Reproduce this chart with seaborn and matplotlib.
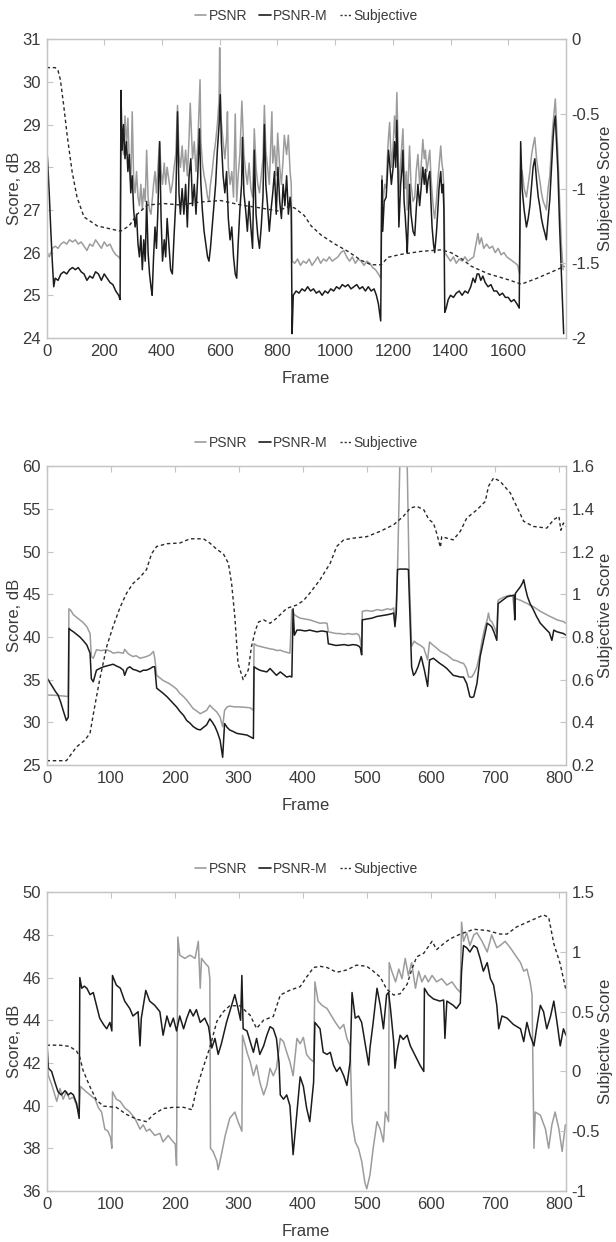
import numpy as np
import pandas as pd
import seaborn as sns
import matplotlib.pyplot as plt
from matplotlib.lines import Line2D

# ---------------- panel 1 (frames 0-1800) ----------------
p1_psnr_f = [0, 10, 20, 30, 40, 50, 60, 70, 80, 90, 100, 110, 120, 130, 140, 150, 160, 170, 180, 190, 200, 210, 220, 230, 240, 250, 255,
             258, 262, 267, 272, 277, 282, 287, 292, 297, 302, 307, 312, 317, 322, 327, 332, 337, 342, 347, 352, 357, 362, 366, 371, 376, 381, 386, 392, 397, 402, 408, 413, 418, 424, 430, 436, 442, 448, 454, 459, 464, 470, 476, 482, 488, 494, 498, 506, 512, 518, 524, 532, 535, 540, 546, 552, 558, 563, 568, 574, 580, 586, 592, 598, 600, 604, 612, 618, 624, 627, 630, 636, 642, 648, 654, 659, 664, 670, 677, 684, 690, 696, 702, 708, 714, 720, 726, 732, 738, 744, 750, 755, 760, 766, 772, 781, 784, 790, 796, 801, 808, 814, 820, 824, 832, 838, 844, 848,
             851, 860, 870, 880, 890, 900, 910, 920, 930, 940, 950, 960, 970, 980, 990, 1000, 1010, 1020, 1030, 1040, 1050, 1060, 1070, 1080, 1090, 1100, 1110, 1120, 1130, 1140, 1150, 1158,
             1162, 1166, 1172, 1177, 1181, 1185, 1189, 1195, 1201, 1206, 1210, 1214, 1218, 1221, 1227, 1231, 1235, 1239, 1243, 1247, 1250, 1254, 1258, 1263, 1270, 1276, 1281, 1287, 1293, 1298, 1304, 1309, 1313, 1318, 1322, 1328, 1332, 1336, 1341, 1345, 1351, 1356, 1360, 1366, 1370, 1374, 1377,
             1380, 1390, 1400, 1410, 1420, 1430, 1440, 1450, 1460, 1470, 1480, 1488, 1495, 1500, 1507, 1515, 1525, 1535, 1545, 1555, 1565, 1575, 1585, 1595, 1605, 1615, 1625, 1633, 1639,
             1643, 1648, 1655, 1663, 1669, 1675, 1681, 1686, 1692, 1698, 1704, 1709, 1715, 1721, 1727, 1732, 1738, 1744, 1750, 1755, 1759, 1763, 1767, 1772, 1778, 1784, 1790]
p1_psnr = [26.0, 25.9, 26.1, 26.15, 26.1, 26.2, 26.25, 26.2, 26.3, 26.25, 26.3, 26.2, 26.25, 26.15, 26.05, 26.2, 26.15, 26.3, 26.2, 26.1, 26.25, 26.15, 26.2, 26.05, 25.95, 25.9, 25.85,
           28.2, 28.9, 28.3, 29.2, 28.5, 29.15, 28.1, 27.6, 29.3, 27.7, 27.4, 27.9, 27.3, 27.1, 27.6, 27.0, 27.5, 27.2, 28.4, 27.3, 27.0, 26.9, 27.2, 27.6, 27.9, 27.4, 28.0, 28.6, 27.9, 27.6, 28.1, 27.6, 28.0, 27.7, 27.4, 27.6, 28.0, 28.3, 29.45, 28.3, 28.0, 28.5, 27.9, 28.4, 27.8, 28.7, 29.5, 28.2, 28.6, 27.9, 28.5, 30.05, 28.6, 28.1, 27.8, 27.6, 27.3, 27.2, 27.6, 27.9, 28.3, 28.6, 29.0, 29.6, 30.8, 29.2, 28.6, 28.2, 28.7, 29.3, 28.0, 27.6, 27.9, 27.3, 29.25, 27.2, 27.8, 28.3, 29.55, 28.3, 27.9, 27.6, 28.1, 27.5, 27.3, 28.9, 28.0, 27.6, 27.4, 27.8, 28.2, 29.45, 28.4, 28.0, 27.6, 29.3, 28.1, 28.5, 27.8, 28.8, 28.0, 27.6, 28.2, 28.75, 28.3, 28.75, 27.9, 27.6,
           25.8, 25.75, 25.85, 25.7, 25.8, 25.75, 25.85, 25.7, 25.8, 25.9, 25.75, 25.85, 25.8, 25.9, 25.8, 25.85, 25.9, 26.0, 26.05, 25.9, 25.8, 25.9, 25.75, 25.85, 25.8, 25.7, 25.8, 25.75, 25.65, 25.6, 25.5, 25.4,
           27.8, 27.2, 27.6, 27.5, 28.2, 28.7, 29.05, 28.0, 28.5, 29.2, 28.7, 29.75, 28.6, 27.4, 28.1, 28.5, 28.9, 28.0, 27.5, 27.9, 27.0, 27.8, 28.5, 27.6, 27.2, 27.3, 27.9, 28.3, 27.6, 28.0, 28.65, 28.2, 28.4, 27.9, 28.1, 28.4, 27.8, 27.4, 27.0, 26.8, 27.2, 27.7, 28.0, 28.5, 28.1, 27.9, 27.5,
           26.0, 25.9, 25.8, 25.9, 25.75, 25.85, 25.8, 25.9, 25.8, 25.85, 25.9, 26.2, 26.45, 26.2, 26.35, 26.1, 26.2, 26.1, 26.15, 26.0, 26.1, 25.95, 26.0, 25.9, 25.85, 25.8, 25.75, 25.7, 25.5,
           28.0, 27.9, 27.5, 27.3, 27.6, 27.9, 28.3, 28.5, 28.7, 28.2, 27.9, 27.7, 27.4, 27.2, 27.1, 27.0, 27.5, 27.8, 28.5, 29.0, 29.3, 29.6, 29.0, 28.3, 27.2, 26.2, 25.6]

p1_psnrm_f = [0, 5, 10, 15, 20, 25, 30, 40, 50, 60, 70, 80, 90, 100, 110, 120, 130, 140, 150, 160, 170, 180, 190, 200, 210, 220, 230, 240, 250, 255,
              258, 262, 267, 272, 277, 282, 287, 292, 297, 302, 307, 312, 317, 322, 327, 332, 337, 342, 347, 352, 357, 362, 366, 371, 376, 381, 386, 392, 397, 402, 408, 413, 418, 424, 430, 436, 442, 448, 454, 459, 464, 470, 476, 482, 488, 494, 500, 506, 512, 518, 524, 530, 535, 540, 546, 552, 558, 563, 568, 574, 580, 586, 592, 598, 602, 606, 612, 618, 624, 630, 636, 642, 648, 654, 659, 664, 670, 676, 679, 684, 690, 696, 702, 708, 714, 720, 726, 732, 738, 744, 750, 755, 760, 766, 772, 778, 784, 790, 796, 802, 808, 814, 820, 826, 832, 838, 844, 848,
              851, 855, 865, 875, 885, 895, 905, 915, 925, 935, 945, 955, 965, 975, 985, 995, 1005, 1015, 1025, 1035, 1045, 1055, 1065, 1075, 1085, 1095, 1105, 1115, 1125, 1135, 1143, 1150, 1158,
              1162, 1165, 1170, 1177, 1181, 1185, 1189, 1195, 1201, 1206, 1210, 1214, 1218, 1221, 1227, 1231, 1235, 1239, 1243, 1247, 1250, 1254, 1258, 1263, 1270, 1276, 1281, 1287, 1293, 1298, 1304, 1309, 1313, 1318, 1322, 1328, 1332, 1336, 1341, 1345, 1351, 1356, 1360, 1366, 1370, 1374, 1377,
              1380, 1385, 1392, 1400, 1410, 1420, 1430, 1440, 1450, 1460, 1470, 1478, 1485, 1492, 1498, 1505, 1512, 1520, 1530, 1540, 1550, 1560, 1570, 1580, 1590, 1600, 1610, 1620, 1630, 1638,
              1643, 1648, 1655, 1663, 1669, 1675, 1681, 1686, 1692, 1698, 1704, 1709, 1715, 1721, 1727, 1732, 1738, 1744, 1750, 1755, 1759, 1763, 1767, 1772, 1778, 1784, 1788, 1792]
p1_psnrm = [28.6, 28.0, 27.3, 26.5, 25.8, 25.2, 25.4, 25.35, 25.5, 25.55, 25.5, 25.6, 25.65, 25.6, 25.65, 25.55, 25.5, 25.35, 25.45, 25.4, 25.55, 25.5, 25.35, 25.5, 25.4, 25.3, 25.25, 25.1, 25.0, 24.9,
            29.8, 28.4, 29.0, 28.2, 28.6, 27.9, 28.3, 27.4, 27.8, 27.0, 26.6, 26.9, 26.2, 25.9, 26.4, 25.6, 26.3, 25.8, 27.2, 26.0, 25.5, 25.2, 25.0, 25.9, 26.6, 26.1, 27.0, 28.6, 26.8, 25.8, 26.3, 25.9, 26.8, 26.2, 25.6, 25.5, 26.4, 27.2, 29.3, 27.4, 26.9, 27.5, 26.9, 27.6, 26.6, 27.8, 28.2, 27.1, 27.6, 26.9, 27.8, 28.9, 27.6, 27.0, 26.5, 26.2, 25.9, 25.8, 26.1, 26.6, 27.1, 27.6, 28.4, 29.0, 29.7, 28.6, 27.8, 27.4, 27.9, 26.8, 26.3, 26.6, 25.9, 25.5, 25.4, 26.2, 27.0, 27.6, 28.7, 27.4, 27.0, 26.5, 27.2, 26.6, 26.1, 28.4, 26.9, 26.4, 26.1, 26.6, 27.3, 29.0, 27.6, 27.1, 26.5, 27.0, 27.4, 27.9, 26.9, 28.0, 27.2, 26.8, 27.6, 27.1, 27.8, 26.9, 27.3, 27.0,
            24.1, 25.0, 25.1, 25.05, 25.15, 25.1, 25.2, 25.1, 25.15, 25.05, 25.1, 25.0, 25.1, 25.05, 25.15, 25.1, 25.2, 25.15, 25.25, 25.2, 25.25, 25.15, 25.2, 25.25, 25.15, 25.2, 25.1, 25.2, 25.1, 25.15, 25.0, 24.8, 24.4,
            27.7, 26.5, 27.2, 27.3, 27.8, 28.4, 28.1, 27.6, 28.0, 28.6, 28.0, 29.1, 27.8, 26.6, 27.6, 27.9, 28.4, 27.2, 26.85, 26.4, 26.0, 26.8, 27.6, 26.9, 26.5, 26.4, 27.0, 27.6, 27.1, 27.5, 28.0, 27.6, 27.95, 27.4, 27.7, 27.9, 27.2, 26.6, 26.2, 26.0, 26.46, 27.0, 27.5, 27.9, 27.4, 27.6, 27.0,
            24.6, 24.7, 24.9, 25.0, 24.95, 25.05, 25.1, 25.0, 25.1, 25.05, 25.2, 25.4, 25.3, 25.5, 25.5, 25.35, 25.45, 25.3, 25.2, 25.25, 25.1, 25.1, 25.0, 25.05, 24.95, 24.95, 24.85, 24.9, 24.8, 24.7,
            28.6, 27.5, 27.0, 26.6, 26.8, 27.1, 27.6, 28.0, 28.2, 27.7, 27.3, 27.1, 26.8, 26.6, 26.45, 26.3, 26.8, 27.25, 28.0, 28.65, 29.0, 29.2, 28.6, 27.9, 26.6, 25.5, 24.8, 24.1]

p1_subj_f = [0, 30, 40, 48, 60, 72, 89, 106, 130, 176, 222, 257, 286, 315, 350, 407, 465, 530, 604, 674, 743, 800, 840, 860, 893, 917, 951, 998, 1044, 1090, 1125, 1160, 1183, 1229, 1299, 1368, 1403, 1438, 1472, 1530, 1600, 1645, 1700, 1760, 1795]
p1_subj = [-0.19, -0.19, -0.21, -0.27, -0.45, -0.65, -0.89, -1.06, -1.19, -1.25, -1.27, -1.285, -1.25, -1.17, -1.11, -1.10, -1.11, -1.09, -1.08, -1.11, -1.13, -1.15, -1.12, -1.13, -1.18, -1.25, -1.31, -1.37, -1.42, -1.48, -1.51, -1.51, -1.46, -1.44, -1.42, -1.41, -1.43, -1.47, -1.52, -1.57, -1.61, -1.64, -1.60, -1.55, -1.52]

# ---------------- panel 2 (frames 0-811) ----------------
p2_psnr_f = [0, 15, 30, 34, 35, 38, 42, 47, 52, 57, 63, 68, 70, 73, 78, 85, 94, 100, 104, 112, 120, 122, 128, 135, 140, 146, 156, 162, 167, 169, 172, 177, 182, 190, 198, 203, 208, 214, 219, 224, 229, 235, 240, 245, 250, 255, 260, 266, 271, 275, 278, 282, 286, 294, 302, 310, 318, 323, 324, 328, 333, 338, 344, 349, 354, 360, 365, 370, 375, 380, 383, 387, 391, 396, 404, 411, 419, 427, 433, 438, 440, 446, 452, 458, 465, 471, 478, 484, 488, 490, 492, 493, 500, 508, 516, 524, 532, 538, 542, 544, 546, 548, 553, 562, 566, 570, 574, 578, 584, 589, 595, 598, 604, 609, 615, 620, 625, 630, 635, 641, 646, 651, 655, 659, 664, 668, 672, 676, 680, 684, 688, 690, 692, 695, 699, 703, 705, 712, 719, 724, 728, 731, 732, 736, 740, 745, 751, 755, 760, 765, 771, 776, 781, 786, 792, 797, 802, 807, 811]
p2_psnr = [33.2, 33.15, 33.05, 33.0, 43.3, 43.1, 42.6, 42.3, 42.0, 41.7, 41.2, 40.4, 37.7, 37.5, 38.5, 38.4, 38.5, 38.3, 38.1, 38.2, 38.1, 38.55, 38.0, 37.7, 37.8, 37.5, 37.7, 37.9, 38.3, 37.5, 35.5, 35.2, 34.9, 34.6, 34.2, 33.9, 33.4, 33.0, 32.6, 32.1, 31.6, 31.3, 31.0, 31.2, 31.4, 32.0, 31.6, 31.2, 30.6, 29.5, 31.4, 31.8, 31.9, 31.8, 31.8, 31.75, 31.7, 31.4, 39.2, 39.0, 38.9, 38.8, 38.7, 38.6, 38.55, 38.4, 38.45, 38.3, 38.2, 38.1, 43.2, 42.6, 42.4, 42.2, 42.1, 42.0, 41.8, 41.6, 41.65, 41.6, 40.6, 40.5, 40.4, 40.4, 40.3, 40.4, 40.3, 40.4, 40.2, 39.6, 38.1, 43.0, 43.1, 43.0, 43.2, 43.1, 43.3, 43.2, 43.4, 41.6, 43.55, 47.9, 65.0, 65.0, 47.9, 38.9, 39.5, 39.25, 39.0, 38.7, 37.3, 39.4, 39.0, 38.7, 38.3, 38.1, 37.9, 37.6, 37.3, 37.2, 37.0, 36.9, 36.4, 35.3, 35.3, 35.8, 36.5, 37.8, 39.6, 41.0, 42.0, 42.8, 42.0, 41.8, 41.2, 40.4, 44.3, 44.6, 44.8, 44.9, 44.7, 42.5, 44.5, 44.4, 44.3, 44.1, 43.9, 43.7, 43.55, 43.3, 43.0, 42.8, 42.6, 42.4, 42.2, 42.0, 41.9, 41.8, 41.6]

p2_psnrm_f = [0, 5, 10, 14, 18, 22, 26, 29, 31, 34, 35, 38, 42, 47, 52, 57, 63, 68, 70, 73, 78, 83, 89, 94, 99, 104, 109, 115, 120, 122, 126, 130, 135, 140, 146, 151, 156, 162, 166, 169, 172, 177, 182, 188, 193, 198, 203, 208, 214, 219, 224, 229, 235, 240, 245, 250, 255, 259, 263, 267, 271, 275, 278, 282, 286, 292, 297, 305, 313, 318, 323, 324, 328, 333, 338, 344, 349, 354, 359, 365, 370, 375, 380, 383, 385, 387, 391, 396, 404, 411, 422, 430, 438, 440, 446, 452, 458, 465, 471, 478, 484, 488, 490, 492, 493, 500, 508, 516, 524, 532, 538, 542, 544, 546, 548, 552, 562, 565, 570, 573, 576, 580, 585, 590, 595, 598, 604, 609, 614, 620, 625, 630, 635, 641, 646, 651, 656, 661, 664, 667, 672, 677, 682, 688, 692, 695, 699, 703, 705, 712, 719, 724, 730, 731, 732, 736, 740, 743, 745, 748, 751, 755, 760, 765, 771, 776, 781, 785, 789, 792, 797, 802, 807, 811]
p2_psnrm = [35.3, 34.7, 34.1, 33.6, 33.2, 32.4, 31.4, 30.7, 30.2, 30.6, 41.0, 40.8, 40.6, 40.3, 40.0, 39.6, 39.05, 38.1, 35.1, 34.75, 36.1, 36.3, 36.5, 36.6, 36.7, 36.8, 36.6, 36.4, 36.1, 35.5, 36.3, 36.5, 36.2, 36.1, 35.9, 36.1, 36.1, 36.3, 36.5, 36.5, 34.0, 33.7, 33.4, 33.0, 32.6, 32.2, 31.8, 31.3, 30.8, 30.2, 29.9, 29.5, 29.2, 29.1, 29.4, 29.7, 30.4, 30.0, 29.5, 28.8, 27.9, 25.9, 29.85, 29.4, 29.1, 28.9, 28.7, 28.6, 28.5, 28.3, 28.1, 36.5, 36.3, 36.1, 36.0, 35.9, 36.3, 35.9, 35.5, 35.9, 35.6, 35.3, 35.4, 35.3, 43.3, 40.2, 40.8, 40.8, 40.7, 40.8, 40.6, 40.7, 40.6, 39.2, 39.1, 39.0, 39.05, 39.1, 39.0, 39.1, 39.05, 38.9, 38.7, 37.9, 42.0, 42.1, 42.2, 42.4, 42.5, 42.6, 42.7, 42.8, 41.2, 42.8, 47.9, 47.95, 47.95, 47.9, 36.5, 35.5, 35.8, 36.5, 37.7, 36.1, 34.2, 37.3, 37.5, 37.2, 36.9, 36.6, 36.3, 35.9, 35.5, 35.4, 35.3, 35.3, 34.55, 33.0, 32.9, 33.0, 34.55, 37.7, 39.5, 41.6, 41.4, 41.2, 40.5, 39.6, 43.9, 44.3, 44.7, 44.8, 44.9, 42.0, 45.1, 45.5, 45.9, 46.3, 46.7, 45.6, 44.7, 43.9, 43.2, 42.4, 41.6, 41.2, 40.8, 40.5, 39.6, 40.8, 40.6, 40.5, 40.4, 40.2]

p2_subj_f = [0, 31, 36, 47, 60, 68, 75, 83, 94, 104, 115, 125, 135, 146, 156, 164, 172, 188, 208, 224, 245, 255, 266, 276, 284, 289, 294, 299, 307, 315, 320, 326, 331, 339, 349, 359, 375, 391, 401, 411, 427, 443, 453, 464, 479, 500, 521, 542, 557, 568, 578, 589, 597, 604, 609, 615, 617, 625, 635, 646, 656, 672, 685, 690, 698, 708, 724, 734, 745, 760, 781, 792, 800, 803, 807, 811]
p2_subj = [0.22, 0.22, 0.24, 0.285, 0.316, 0.35, 0.47, 0.60, 0.755, 0.85, 0.94, 1.005, 1.05, 1.08, 1.115, 1.19, 1.224, 1.237, 1.24, 1.26, 1.26, 1.24, 1.21, 1.19, 1.145, 1.05, 0.895, 0.676, 0.60, 0.645, 0.755, 0.83, 0.87, 0.88, 0.864, 0.887, 0.934, 0.95, 0.97, 1.005, 1.068, 1.146, 1.224, 1.255, 1.263, 1.27, 1.295, 1.326, 1.365, 1.404, 1.412, 1.396, 1.35, 1.334, 1.287, 1.22, 1.27, 1.263, 1.255, 1.295, 1.357, 1.396, 1.435, 1.506, 1.545, 1.53, 1.475, 1.412, 1.342, 1.318, 1.31, 1.35, 1.365, 1.30, 1.334, 1.318]

# ---------------- panel 3 (frames 0-811) ----------------
p3_psnr_f = [0, 3, 8, 12, 16, 21, 26, 31, 36, 42, 47, 51, 53, 60, 68, 76, 81, 86, 91, 96, 100, 102, 103, 109, 115, 122, 130, 138, 146, 151, 156, 161, 169, 177, 182, 190, 195, 201, 203, 205, 208, 216, 224, 232, 237, 240, 242, 247, 253, 255, 256, 260, 266, 268, 273, 279, 286, 294, 299, 305, 306, 313, 318, 323, 328, 333, 339, 344, 349, 354, 359, 365, 370, 375, 380, 385, 391, 396, 401, 406, 411, 417, 419, 424, 430, 438, 445, 451, 458, 464, 469, 474, 477, 482, 487, 492, 497, 500, 505, 510, 516, 521, 526, 529, 534, 535, 539, 545, 550, 555, 560, 565, 570, 576, 581, 586, 591, 596, 602, 609, 617, 625, 633, 640, 646, 648, 651, 656, 661, 667, 672, 680, 688, 695, 703, 708, 716, 724, 732, 740, 745, 750, 755, 758, 761, 763, 771, 779, 784, 789, 794, 800, 805, 810]
p3_psnr = [42.2, 41.4, 41.0, 40.6, 40.2, 40.8, 40.3, 40.65, 40.3, 40.4, 40.0, 39.6, 40.9, 40.7, 40.5, 40.3, 39.9, 39.7, 38.9, 38.8, 38.5, 38.0, 40.65, 40.3, 40.2, 39.9, 39.7, 39.4, 38.9, 39.1, 38.8, 38.9, 38.6, 38.7, 38.3, 38.6, 38.4, 38.2, 37.2, 47.9, 47.05, 46.9, 47.05, 46.9, 47.7, 45.5, 46.9, 46.7, 46.5, 45.95, 38.0, 37.85, 37.4, 37.0, 37.7, 38.6, 39.4, 39.7, 39.25, 38.8, 43.3, 42.5, 42.05, 41.4, 41.9, 41.1, 40.5, 40.95, 41.75, 41.4, 41.75, 43.15, 43.0, 42.5, 42.05, 41.4, 43.15, 42.9, 43.2, 42.4, 42.2, 42.05, 45.8, 44.9, 44.7, 44.55, 44.2, 43.9, 43.6, 43.8, 43.15, 42.8, 39.25, 38.3, 38.0, 37.4, 36.4, 36.1, 36.75, 38.0, 39.25, 38.9, 38.3, 39.7, 39.25, 46.7, 46.3, 45.8, 46.4, 45.95, 46.9, 46.1, 46.7, 45.5, 46.3, 45.8, 46.1, 45.8, 46.1, 45.8, 45.95, 45.65, 45.8, 45.5, 45.3, 48.6, 47.7, 48.1, 47.5, 48.0, 48.1, 47.7, 47.2, 48.0, 47.4, 47.5, 47.7, 47.4, 47.05, 46.7, 46.3, 46.4, 45.8, 45.2, 38.0, 39.7, 39.55, 38.9, 38.0, 39.1, 39.7, 38.9, 37.85, 39.1]

p3_psnrm_f = [0, 3, 8, 13, 18, 23, 29, 34, 38, 42, 47, 51, 52, 55, 59, 63, 68, 73, 78, 83, 89, 94, 99, 102, 103, 109, 115, 122, 130, 135, 143, 146, 148, 155, 161, 169, 177, 182, 188, 193, 198, 203, 208, 214, 219, 224, 229, 234, 240, 247, 253, 258, 263, 268, 273, 281, 289, 294, 299, 303, 305, 307, 313, 318, 323, 328, 333, 339, 344, 349, 354, 359, 363, 365, 370, 375, 380, 385, 391, 396, 401, 406, 411, 417, 419, 427, 432, 438, 443, 448, 453, 458, 464, 469, 474, 477, 482, 487, 492, 497, 503, 505, 510, 516, 521, 526, 531, 534, 537, 542, 544, 547, 552, 557, 563, 568, 573, 578, 583, 589, 590, 596, 604, 614, 620, 622, 625, 635, 640, 646, 648, 651, 656, 661, 667, 672, 677, 682, 688, 693, 698, 703, 706, 711, 719, 729, 740, 745, 750, 755, 761, 766, 771, 776, 781, 787, 792, 797, 802, 807, 811]
p3_psnrm = [43.3, 41.75, 41.6, 41.1, 40.65, 40.5, 40.7, 40.5, 40.6, 40.5, 40.1, 39.4, 46.0, 45.5, 45.6, 45.5, 45.2, 45.3, 44.7, 44.1, 43.8, 43.6, 43.9, 43.5, 46.1, 45.65, 45.5, 44.9, 44.55, 44.2, 44.4, 42.8, 44.1, 45.4, 44.9, 44.7, 44.4, 43.3, 44.2, 43.7, 44.1, 43.5, 44.2, 43.6, 44.1, 44.5, 44.2, 44.5, 43.9, 44.1, 43.7, 42.7, 43.15, 42.4, 42.9, 43.9, 44.7, 45.2, 44.55, 44.0, 46.1, 43.6, 43.5, 43.0, 42.5, 43.15, 42.4, 42.8, 43.3, 43.7, 43.6, 43.15, 42.0, 40.5, 40.3, 40.5, 40.0, 37.7, 39.7, 41.35, 40.9, 39.9, 39.25, 41.1, 43.9, 43.6, 42.5, 42.4, 42.5, 41.9, 41.6, 41.8, 41.4, 40.95, 42.05, 45.3, 44.1, 44.2, 43.9, 43.0, 41.9, 42.7, 43.9, 45.5, 44.7, 43.6, 45.2, 45.3, 44.55, 43.0, 41.75, 42.5, 43.3, 43.1, 43.3, 42.8, 42.5, 42.2, 41.9, 41.6, 45.5, 45.2, 45.0, 44.9, 44.95, 43.15, 44.9, 44.7, 44.55, 44.8, 46.3, 47.5, 47.4, 47.2, 47.5, 47.4, 46.9, 46.3, 46.7, 45.95, 45.65, 44.7, 43.6, 44.2, 44.1, 43.8, 43.6, 43.0, 43.9, 43.3, 42.8, 43.8, 44.7, 44.4, 43.6, 44.2, 44.9, 43.9, 42.8, 43.6, 43.3]

p3_subj_f = [0, 21, 36, 47, 52, 57, 68, 78, 89, 109, 125, 141, 156, 167, 182, 198, 214, 227, 234, 245, 255, 266, 276, 286, 302, 318, 328, 339, 354, 365, 380, 396, 406, 417, 427, 438, 453, 469, 484, 500, 510, 521, 531, 542, 552, 563, 570, 578, 589, 602, 609, 620, 630, 646, 667, 688, 708, 719, 734, 755, 776, 784, 792, 802, 811]
p3_subj = [0.22, 0.22, 0.21, 0.17, 0.12, 0.01, -0.13, -0.24, -0.29, -0.30, -0.36, -0.40, -0.42, -0.36, -0.31, -0.30, -0.30, -0.32, -0.15, 0.04, 0.20, 0.42, 0.50, 0.55, 0.55, 0.47, 0.36, 0.43, 0.46, 0.64, 0.68, 0.71, 0.79, 0.87, 0.88, 0.87, 0.83, 0.85, 0.89, 0.88, 0.84, 0.79, 0.69, 0.64, 0.65, 0.73, 0.85, 0.96, 0.99, 1.09, 1.02, 1.07, 1.11, 1.15, 1.19, 1.18, 1.15, 1.15, 1.21, 1.26, 1.31, 1.29, 1.07, 0.90, 0.68]

series_names = ['PSNR', 'PSNR-M', 'Subjective']

panels = [
    dict(psnr=(p1_psnr_f, p1_psnr), psnrm=(p1_psnrm_f, p1_psnrm), subj=(p1_subj_f, p1_subj),
         xlim=(0, 1800), xticks=range(0, 1601, 200), ylim=(24, 31), yticks=range(24, 32),
         rlim=(-2, 0), rticks=[-2, -1.5, -1, -0.5, 0], pos=0.7279),
    dict(psnr=(p2_psnr_f, p2_psnr), psnrm=(p2_psnrm_f, p2_psnrm), subj=(p2_subj_f, p2_subj),
         xlim=(0, 811), xticks=range(0, 801, 100), ylim=(25, 60), yticks=range(25, 61, 5),
         rlim=(0.2, 1.6), rticks=[0.2, 0.4, 0.6, 0.8, 1, 1.2, 1.4, 1.6], pos=0.3841),
    dict(psnr=(p3_psnr_f, p3_psnr), psnrm=(p3_psnrm_f, p3_psnrm), subj=(p3_subj_f, p3_subj),
         xlim=(0, 811), xticks=range(0, 801, 100), ylim=(36, 50), yticks=range(36, 51, 2),
         rlim=(-1, 1.5), rticks=[-1, -0.5, 0, 0.5, 1, 1.5], pos=0.0411),
]

sns.set_theme(style='white')
plt.rcParams['font.family'] = ['Liberation Sans', 'DejaVu Sans']

gray = '#9c9c9c'
black = '#1c1c1c'
spine_c = '#c4c4c4'
text_c = '#3a3a3a'

fig = plt.figure(figsize=(6.16, 12.42), dpi=100)

for p in panels:
    ax = fig.add_axes([0.0755, p['pos'], 0.8433, 0.2405])
    ax2 = ax.twinx()

    sns.lineplot(x=p['psnr'][0], y=p['psnr'][1], ax=ax, color=gray, lw=1.1,
                 estimator=None, sort=False, legend=False)
    sns.lineplot(x=p['psnrm'][0], y=p['psnrm'][1], ax=ax, color=black, lw=1.1,
                 estimator=None, sort=False, legend=False)
    sns.lineplot(x=p['subj'][0], y=p['subj'][1], ax=ax2, color='#2a2a2a', lw=1.0,
                 linestyle=(0, (2.5, 2)), estimator=None, sort=False, legend=False)

    ax.set_xlim(*p['xlim'])
    ax.set_ylim(*p['ylim'])
    ax2.set_ylim(*p['rlim'])
    ax.set_xticks(list(p['xticks']))
    ax.set_yticks(list(p['yticks']))
    ax2.set_yticks(p['rticks'])
    ax2.set_yticklabels(['%g' % v for v in p['rticks']])

    for a in (ax, ax2):
        for s in a.spines.values():
            s.set_color(spine_c)
            s.set_linewidth(0.9)
    ax.tick_params(axis='both', direction='in', length=4, width=0.8, color=spine_c,
                   labelcolor=text_c, labelsize=12, top=True, pad=4)
    ax.tick_params(axis='y', right=False)
    ax2.tick_params(axis='y', direction='in', length=4, width=0.8, color=spine_c,
                    labelcolor=text_c, labelsize=12, pad=4)

    ax.set_xlabel('Frame', fontsize=12, color=text_c)
    ax.set_ylabel('Score, dB', fontsize=12, color=text_c)
    ax2.set_ylabel('Subjective Score', fontsize=12, color=text_c)
    ax.xaxis.set_label_coords(0.5, -0.11)
    ax.yaxis.set_label_coords(-0.048, 0.5)
    ax2.yaxis.set_label_coords(1.062, 0.5)

    handles = [Line2D([], [], color=gray, lw=1.2),
               Line2D([], [], color=black, lw=1.2),
               Line2D([], [], color='#2a2a2a', lw=1.0, linestyle=(0, (1.5, 1.5)))]
    ax2.legend(handles, series_names, loc='center', bbox_to_anchor=(0.5, 1.078), ncol=3,
               frameon=False, fontsize=10, handlelength=0.8, handletextpad=0.15,
               columnspacing=0.9, labelcolor=text_c)

fig.savefig('out.png', dpi=100)
